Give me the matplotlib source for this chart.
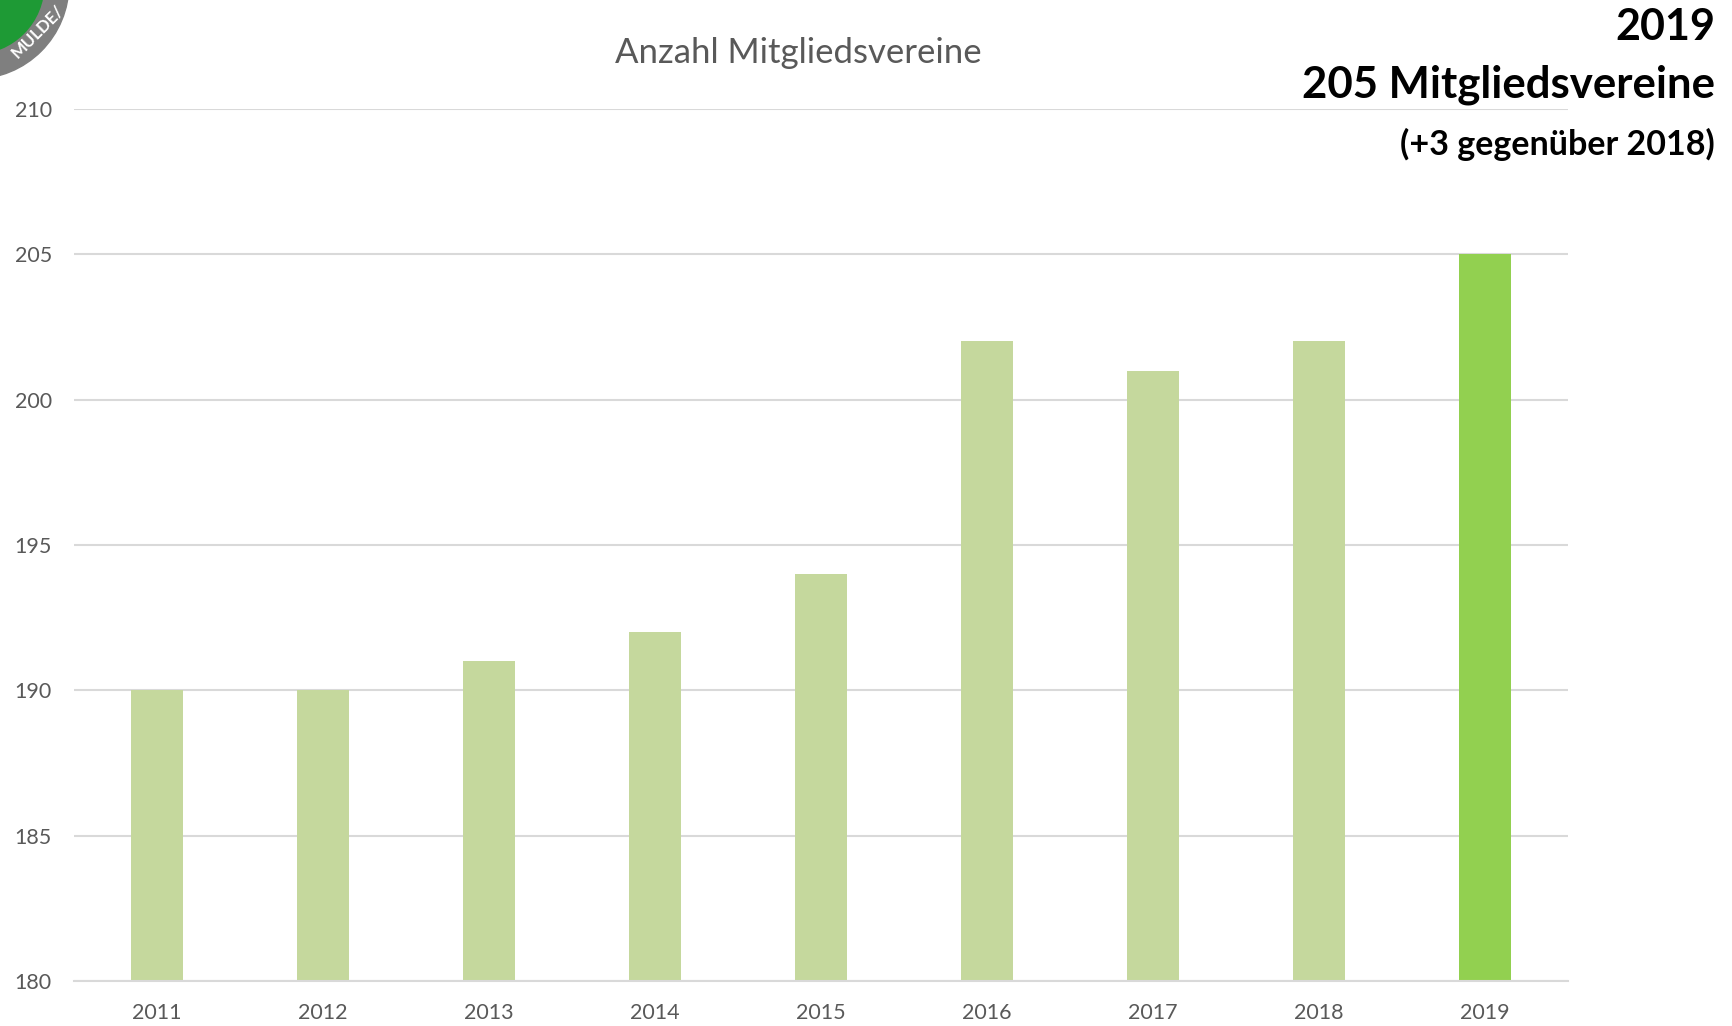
import numpy as np
import matplotlib.pyplot as plt
from matplotlib.patches import Circle, Wedge

# data
years = ['2011', '2012', '2013', '2014', '2015', '2016', '2017', '2018', '2019']
vereine = [190, 190, 191, 192, 194, 202, 201, 202, 205]
yticks = [180, 185, 190, 195, 200, 205, 210]

plt.rcParams['font.family'] = ['Lato', 'DejaVu Sans']

fig = plt.figure(figsize=(17.33, 10.26), dpi=100)
ax = fig.add_axes([0.0427, 0.0439, 0.862, 0.8499])

colors = ['#C5D89D'] * (len(years) - 1) + ['#92D050']
x = np.arange(len(years))
ax.bar(x, vereine, width=0.313, color=colors, zorder=2)

ax.set_ylim(180, 210)
ax.set_xlim(-0.5, len(years) - 0.5)
ax.set_yticks(yticks)
ax.set_xticks(x)
ax.set_xticklabels(years)
ax.yaxis.grid(True, color='#D9D9D9', linewidth=1.5, zorder=0)
ax.tick_params(axis='both', length=0, colors='#595959', labelsize=15.5)
ax.tick_params(axis='y', pad=16)
ax.tick_params(axis='x', pad=16)
for s in ['top', 'right', 'left']:
    ax.spines[s].set_visible(False)
ax.spines['bottom'].set_color('#D9D9D9')
ax.spines['bottom'].set_linewidth(1.5)

fig.text(798 / 1733, 1 - 53 / 1026, 'Anzahl Mitgliedsvereine', ha='center', va='center',
         fontsize=25, color='#595959')

# headline top right
fig.text(1715 / 1733, 1 - 27 / 1026, '2019', ha='right', va='center',
         fontsize=31, fontweight='bold', color='black')
fig.text(1715 / 1733, 1 - 85 / 1026, '205 Mitgliedsvereine', ha='right', va='center',
         fontsize=31.5, fontweight='bold', color='black')
fig.text(1715 / 1733, 1 - 144 / 1026, '(+3 gegenüber 2018)', ha='right', va='center',
         fontsize=24.5, fontweight='bold', color='black')

# logo corner (partially visible)
lax = fig.add_axes([0, 0, 1, 1], zorder=5)
lax.set_xlim(0, 1733)
lax.set_ylim(1026, 0)
lax.axis('off')
lax.add_patch(Circle((-26, -16), 95, color='#7F7F7F'))
lax.add_patch(Circle((-26, -16), 70, color='#1E9A35'))
for r in [45, 62, 79]:
    lax.add_patch(Wedge((-50, -70), r, 20, 80, width=4, color='white'))
lax.text(37, 31, 'MULDE/', rotation=45, ha='center', va='center', fontsize=12,
         fontweight='bold', color='white')

fig.savefig('out.png', dpi=100)
